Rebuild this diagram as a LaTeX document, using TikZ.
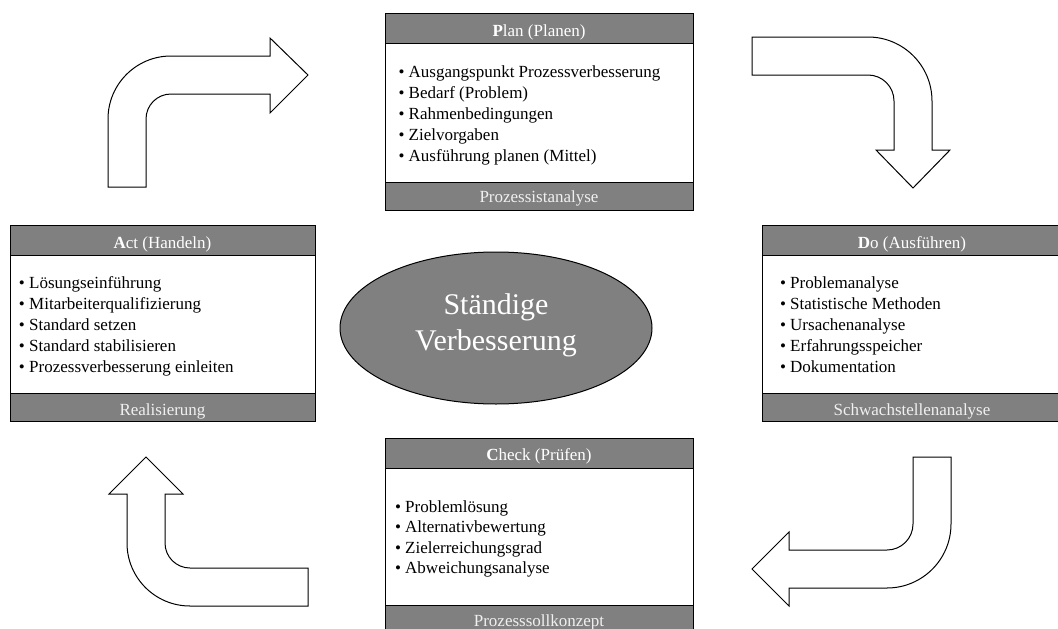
\documentclass[tikz,border=0pt]{standalone}
\usepackage{fontspec}
\setmainfont{Liberation Serif}
\usetikzlibrary{shapes.geometric}
\definecolor{boxgray}{HTML}{808080}
\begin{document}
\begin{tikzpicture}[x=1pt,y=-1pt,
  every node/.style={inner sep=0pt, outer sep=0pt},
  band/.style={draw=black, line width=1pt, fill=boxgray, anchor=north west},
  bodybox/.style={draw=black, line width=1pt, fill=white, anchor=north west},
  txt/.style={font=\fontsize{17}{21}\selectfont, anchor=base west, text=black},
  headtxt/.style={font=\fontsize{17}{21}\selectfont, anchor=base, text=white},
  foottxt/.style={font=\fontsize{17}{21}\selectfont, anchor=base, text=black!6},
  bentarrow/.style={draw=black, line width=1pt, fill=white, line join=miter},
  bigtxt/.style={font=\fontsize{30}{36}\selectfont, anchor=base, text=white}]
\useasboundingbox (0,0) rectangle (1058,629);
\clip (0,0) rectangle (1058,629);

% ---------- Plan ----------
\node[bodybox, minimum width=308, minimum height=139] (planbody) at (385,43) {};
\node[band, minimum width=308, minimum height=30] (planhead) at (385,13) {};
\node[band, minimum width=308, minimum height=28] (planfoot) at (385,182) {};
\node[headtxt] (planheadt) at (539,36) {\textbf{P}lan (Planen)};
\node[foottxt] (planfoott) at (539,202) {Prozessistanalyse};
\foreach \t [count=\i] in {{Ausgangspunkt Prozessverbesserung},{Bedarf (Problem)},{Rahmenbedingungen},{Zielvorgaben},{Ausführung planen (Mittel)}}
  \node[txt] (plan\i) at (398.5,{77+21*(\i-1)}) {• \t};

% ---------- Act ----------
\node[bodybox, minimum width=305, minimum height=138] (actbody) at (10,255) {};
\node[band, minimum width=305, minimum height=30] (acthead) at (10,225) {};
\node[band, minimum width=305, minimum height=28] (actfoot) at (10,393) {};
\node[headtxt] (actheadt) at (162.5,248) {\textbf{A}ct (Handeln)};
\node[foottxt] (actfoott) at (162.5,415) {Realisierung};
\foreach \t [count=\i] in {{Lösungseinführung},{Mitarbeiterqualifizierung},{Standard setzen},{Standard stabilisieren},{Prozessverbesserung einleiten}}
  \node[txt] (act\i) at (19,{288+21*(\i-1)}) {• \t};

% ---------- Do ----------
\node[bodybox, minimum width=303, minimum height=138] (dobody) at (762,255) {};
\node[band, minimum width=303, minimum height=30] (dohead) at (762,225) {};
\node[band, minimum width=303, minimum height=28] (dofoot) at (762,393) {};
\node[headtxt] (doheadt) at (912,248) {\textbf{D}o (Ausführen)};
\node[foottxt] (dofoott) at (912,415) {Schwachstellenanalyse};
\foreach \t [count=\i] in {{Problemanalyse},{Statistische Methoden},{Ursachenanalyse},{Erfahrungsspeicher},{Dokumentation}}
  \node[txt] (do\i) at (780,{288+21*(\i-1)}) {• \t};

% ---------- Check ----------
\node[bodybox, minimum width=308, minimum height=137] (checkbody) at (385,468) {};
\node[band, minimum width=308, minimum height=30] (checkhead) at (385,438) {};
\node[band, minimum width=308, minimum height=30] (checkfoot) at (385,605) {};
\node[headtxt] (checkheadt) at (539,460) {\textbf{C}heck (Prüfen)};
\node[foottxt] (checkfoott) at (539,626) {Prozesssollkonzept};
\foreach \t [count=\i] in {{Problemlösung},{Alternativbewertung},{Zielerreichungsgrad},{Abweichungsanalyse}}
  \node[txt] (check\i) at (395,{512+20.5*(\i-1)}) {• \t};

% ---------- centre ----------
\node[ellipse, draw=black, line width=1pt, fill=boxgray, minimum width=312, minimum height=152] (centre) at (496,328) {};
\node[bigtxt] (centre1) at (496,314) {Ständige};
\node[bigtxt] (centre2) at (496,350) {Verbesserung};

% ---------- bent arrows ----------
\draw[bentarrow] (108,187) -- (108,119) arc[start angle=180,end angle=270,radius=63]
  -- (270,56) -- (270,38) -- (308,75) -- (270,113) -- (270,94) -- (171,94)
  arc[start angle=270,end angle=180,radius=25] -- (146,187) -- cycle;

\draw[bentarrow] (752,37) -- (868,37) arc[start angle=270,end angle=360,radius=64]
  -- (932,150) -- (950,150) -- (913,188) -- (876,150) -- (894,150) -- (894,101)
  arc[start angle=0,end angle=-90,radius=26] -- (752,75) -- cycle;

\draw[bentarrow] (913,457) -- (951,457) -- (951,524) arc[start angle=0,end angle=90,radius=64]
  -- (789,588) -- (789,606) -- (752,569) -- (789,532) -- (789,550) -- (887,550)
  arc[start angle=90,end angle=0,radius=26] -- cycle;

\draw[bentarrow] (308,568) -- (190,568) arc[start angle=90,end angle=180,radius=25]
  -- (165,494) -- (183,494) -- (146,457) -- (109,494) -- (127,494) -- (127,543)
  arc[start angle=180,end angle=90,radius=63] -- (308,606) -- cycle;
\end{tikzpicture}
\end{document}
